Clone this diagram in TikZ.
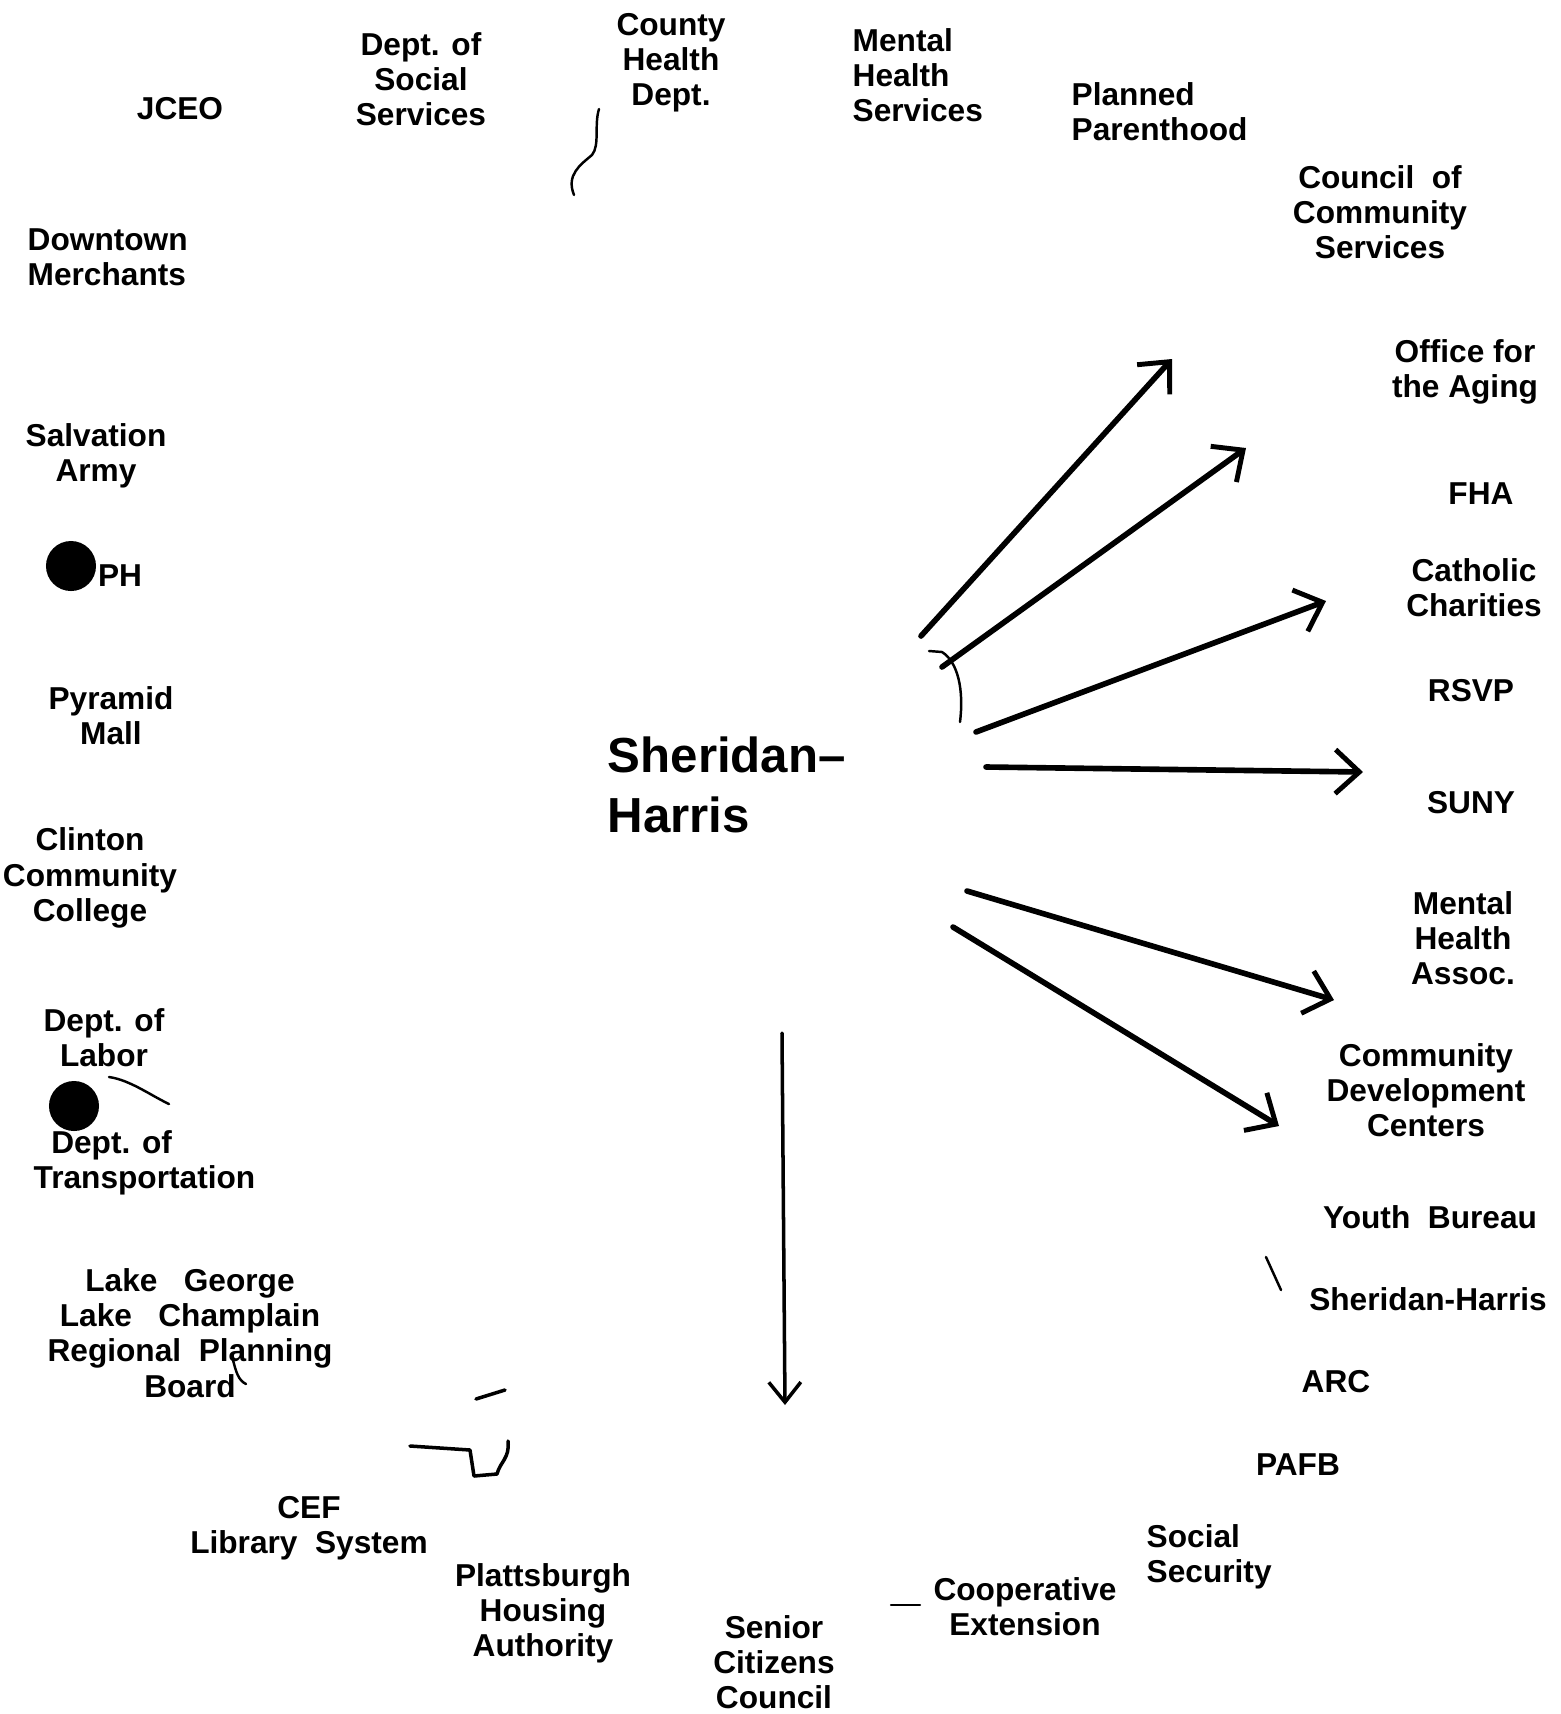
\documentclass[tikz,border=0pt]{standalone}
\usepackage{fontspec}
\setmainfont{Liberation Sans}
\usetikzlibrary{arrows.meta}

\begin{document}
\begin{tikzpicture}[x=0.01cm, y=-0.01cm,
    agency/.style={font=\bfseries\fontsize{9}{10}\selectfont, align=center, inner sep=0pt},
    link/.style={-{Straight Barb[length=2.4mm, width=4.4mm, line width=1.4pt]}, line width=1.6pt, line cap=round},
    pen/.style={line width=0.7pt, line cap=round, line join=round}]
\useasboundingbox (0,0) rectangle (1561,1714);

% centre
\node[font=\bfseries\fontsize{14}{17}\selectfont, align=left, inner sep=0pt, anchor=west] (sh) at (607,785) {Sheridan--\\Harris};

% top row
\node[agency] (jceo) at (180,109) {JCEO};
\node[agency] (dss) at (421,79) {Dept. of\\Social\\Services};
\node[agency] (chd) at (671,63) {County\\Health\\Dept.};
\node[agency, align=left, anchor=west] (mhs) at (852,75) {Mental\\Health\\Services};
\node[agency, align=left, anchor=west] (pp) at (1071,112) {Planned\\Parenthood};
\node[agency] (ccs) at (1380,212) {Council~ of\\Community\\Services};

% left column
\node[agency, align=left, anchor=west] (dm) at (27,257) {Downtown\\Merchants};
\node[agency] (sa) at (96,456) {Salvation\\Army};
\node[circle, fill, minimum size=5mm, inner sep=0pt] (phdot) at (71,566) {};
\node[agency] (ph) at (120,576) {PH};
\node[agency] (pm) at (111,716) {Pyramid\\Mall};
\node[agency] (ccc) at (90,878) {Clinton\\Community\\College};
\node[agency] (dol) at (104,1038) {Dept. of\\Labor};
\node[circle, fill, minimum size=5mm, inner sep=0pt] (doldot) at (74,1106) {};
\node[agency, align=left, anchor=west] (dot) at (33,1163) {~~Dept. of\\Transportation};
\node[agency] (lglc) at (190,1333) {Lake~~ George\\Lake~~ Champlain\\Regional~ Planning\\Board};

% bottom row
\node[agency] (cef) at (309,1528) {CEF\\Library~ System};
\node[agency] (pha) at (543,1613) {Plattsburgh\\Housing\\Authority};
\node[agency] (scc) at (774,1662) {Senior\\Citizens\\Council};
\node[agency] (ce) at (1025,1607) {Cooperative\\Extension};
\node[agency, align=left, anchor=west] (ss) at (1146,1557) {Social\\Security};

% right column
\node[agency] (ofa) at (1465,372) {Office for\\the Aging};
\node[agency] (fha) at (1481,494) {FHA};
\node[agency] (cc) at (1474,588) {Catholic\\Charities};
\node[agency] (rsvp) at (1471,691) {RSVP};
\node[agency] (suny) at (1471,803) {SUNY};
\node[agency] (mha) at (1463,938) {Mental\\Health\\Assoc.};
\node[agency] (cdc) at (1426,1090) {Community\\Development\\Centers};
\node[agency] (yb) at (1430,1217) {Youth~ Bureau};
\node[agency] (sh2) at (1428,1299) {Sheridan-Harris};
\node[agency] (arc) at (1336,1382) {ARC};
\node[agency] (pafb) at (1298,1465) {PAFB};

% arrow ends
\coordinate (from1) at (921,636);   \coordinate (to1) at (1172,359);
\coordinate (from2) at (942,667);   \coordinate (to2) at (1246,448);
\coordinate (from3) at (976,732);   \coordinate (to3) at (1326,601);
\coordinate (from4) at (986,767);   \coordinate (to4) at (1363,772);
\coordinate (from5) at (967,891);   \coordinate (to5) at (1334,1000);
\coordinate (from6) at (953,927);   \coordinate (to6) at (1279,1126);
\coordinate (from7) at (782,1033);  \coordinate (to7) at (785,1405);

\foreach \i in {1,...,6}
    \draw[link] (from\i) -- (to\i);
\draw[link, line width=1pt, -{Straight Barb[length=2mm, width=3.2mm, line width=1pt]}] (from7) -- (to7);

% pen marks
\draw[pen] (929,651) -- (942,652) .. controls (958,662) and (964,690) .. (960,722);
\draw[pen] (599,109) .. controls (594,125) and (600,145) .. (592,155) .. controls (580,165) and (566,175) .. (574,195);
\draw[pen] (109,1077) .. controls (130,1080) and (150,1095) .. (169,1104);
\draw[pen, line width=1pt] (476,1399) -- (505,1390);
\draw[pen, line width=1pt] (410,1446) -- (470,1450) -- (474,1476) -- (497,1474) .. controls (500,1462) and (510,1458) .. (508,1441);
\draw[pen] (1266,1257) -- (1281,1290);
\draw[pen] (891,1605) -- (920,1605);
\draw[pen] (232,1356) .. controls (236,1372) and (238,1380) .. (246,1384);
\end{tikzpicture}
\end{document}
